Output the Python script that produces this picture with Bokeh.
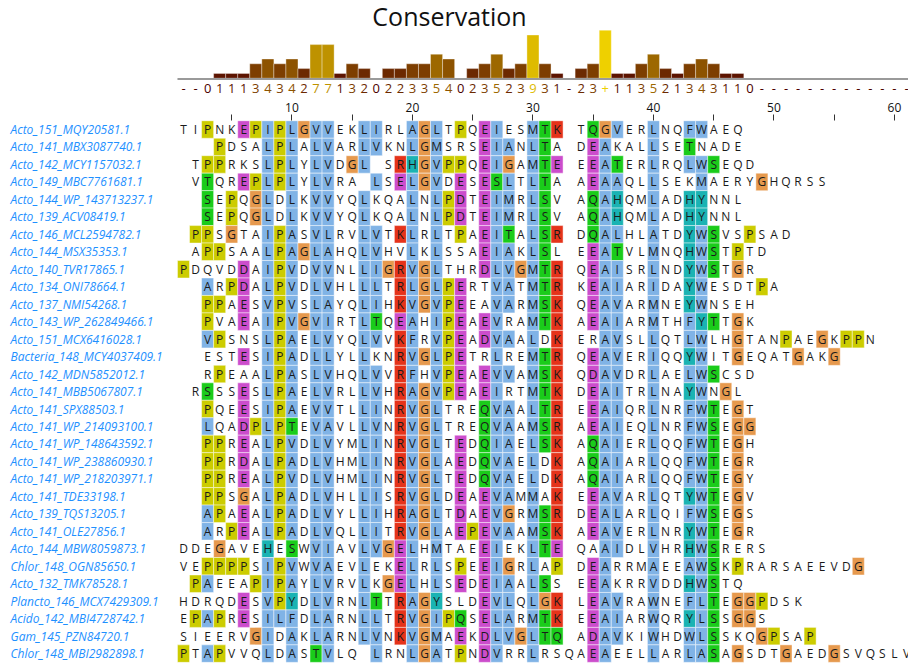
from collections import Counter
from bokeh.plotting import figure
from bokeh.models import Range1d, ColumnDataSource, FixedTicker
from bokeh.layouts import column
from bokeh.embed import file_html
from bokeh.resources import INLINE
from bokeh.core.properties import value

# ---------------- data ----------------
seq_ids = [
    "Acto_151_MQY20581.1", "Acto_141_MBX3087740.1", "Acto_142_MCY1157032.1",
    "Acto_149_MBC7761681.1", "Acto_144_WP_143713237.1", "Acto_139_ACV08419.1",
    "Acto_146_MCL2594782.1", "Acto_144_MSX35353.1", "Acto_140_TVR17865.1",
    "Acto_134_ONI78664.1", "Acto_137_NMI54268.1", "Acto_143_WP_262849466.1",
    "Acto_151_MCX6416028.1", "Bacteria_148_MCY4037409.1", "Acto_142_MDN5852012.1",
    "Acto_141_MBB5067807.1", "Acto_141_SPX88503.1", "Acto_141_WP_214093100.1",
    "Acto_141_WP_148643592.1", "Acto_141_WP_238860930.1", "Acto_141_WP_218203971.1",
    "Acto_141_TDE33198.1", "Acto_139_TQS13205.1", "Acto_141_OLE27856.1",
    "Acto_144_MBW8059873.1", "Chlor_148_OGN85650.1", "Acto_132_TMK78528.1",
    "Plancto_146_MCX7429309.1", "Acido_142_MBI4728742.1", "Gam_145_PZN84720.1",
    "Chlor_148_MBI2982898.1",
]

seq_left = [
    "TIPNKEPIPLGVVEKLIRLAGLTPQEIESM",
    "---PDSALPLALVARLVKNLGMSRSEIANL",
    "-TPPRKSLPLYLVDGL-SRHGVPPQEIGAM",
    "-VTQREPLPLYLVRA-LSELGVDESESLTL",
    "--SEPQGLDLKVVYQLKQALNLPDTEIMRL",
    "--SEPQGLDLKVVYQLKQALNLPDTEIMRL",
    "-PPSGTAIPASVLRVLVTKLRLTPAEITAL",
    "-APPSAALPAGLAHQLVHVLKLSSAEIAKL",
    "PDQVDDAIPVDVVNLLIGRVGLTHRDLVGM",
    "--ARPDALPVDLVHLLLTRLGLPERTVATM",
    "--PPAESVPVSLAYQLIHKVGVPEEAVARM",
    "--PVAEAIPVGVIRTLTQEAHIPEAEVRAM",
    "--VPSNSLPAELVYQLVVKFRVPEADVAAL",
    "--ESTESIPADLLYLLKNRVGLPETRLREM",
    "--RPEAALPASLVHQLVVRFHVPEAEVVAM",
    "-RSSSESLPAELVRLLVHRAGVPEAEIRTM",
    "--PQEESIPAEVVTLLINRVGLTREQVAAL",
    "--LQADPLPTEVAVLLVNRVGLTREQVAAM",
    "--PPREALPVDLVYMLINRVGLTEDQIAEL",
    "--PPRDALPADLVHMLINRVGLAEDQVAEL",
    "--PPREALPVDLVHMLINRVGLTEDQVAEL",
    "--PPSGALPADLVHLLISRVGLDEAEVAMM",
    "--APAEALPADLVYLLIHRAGLTDAEVGRM",
    "--ARPEALPADLVQLLITRVGLAEPEVAAM",
    "DDEGAVEHESWVIAVLVGELHMTAEEIEKL",
    "VEPPPPSIPVWVAEVLEKELRLSPEEIGRL",
    "-PAEEAPIPAYLVRVLKGELHLSEDEIAAL",
    "HDRQDESVPYDLVRNLTTRAGYSLDEVLQL",
    "EPAPRESILFDLARNLLTRVGIPQSELARM",
    "SIEERVGIDAKLARNLVNKVGMAEKDLVGL",
    "PTAPVVQLDASTVLQ-LRNLGATPNDVRRL",
]

seq_right = [
    "TK-TQGVERLNQFWAEQ",
    "TA-DEAKALLSETNADE",
    "TE-EEATERLRQLWSEQD",
    "TA-AEAAQLLSEKMAERYGHQRSS",
    "SV-AQAHQMLADHYNNL",
    "SV-AQAHQMLADHYNNL",
    "SR-DQALHLATDYWSVSPSAD",
    "SL-EEATVLMNQHWSTPTD",
    "TR-QEAISRLNDYWSTGR",
    "TR-KEAIARIDAYWESDTPA",
    "SK-QEAVARMNEYWNSEH",
    "TK-AEAIARMTHFYTTGK",
    "DK-ERAVSLLQTLWLHGTANPAEGKPPN",
    "TR-QEAVERIQQYWITGEQATGAKG",
    "SK-QDAVDRLAELWSCSD",
    "TK-DEAITRLNAYWNGL",
    "TR-EEAIQRLNRFWTEGT",
    "SR-AEAIEQLNRFWSEGG",
    "SK-AQAIERLQQFWTEGH",
    "DK-AQAIARLQQFWTEGR",
    "DK-AQAIARLQQFWTEGY",
    "AK-EEAVARLQTYWTEGV",
    "SR-DEALARLQIFWSEGS",
    "SK-AEAVERLNRYWTEGR",
    "TE-QAAIDLVHRHWSRERS",
    "AP-DEARRMAEEAWSKPRARSAEEVDG",
    "SS-EEAKRRVDDHWSTQ",
    "GK-LEAVRAWNEFLTEGGPDSK",
    "TK-EEAIARWQRYLSSGGS",
    "TQ-ADAVKIWHDWLSSKQGPSAP",
    "RSQAEAEELLARLASAGSDTGAEDGSVQSLV",
]

conservation = ["-", "-", "0", "1", "1", "1", "3", "4", "3", "4",
                "2", "7", "7", "1", "3", "2", "0", "2", "2", "3",
                "3", "5", "4", "0", "2", "3", "5", "2", "3", "9",
                "3", "1", "-", "2", "3", "+", "1", "1", "3", "5",
                "2", "1", "3", "4", "3", "1", "1", "0", "-", "-",
                "-", "-", "-", "-", "-", "-", "-", "-", "-", "-", "-"]

tick_cols = [5, 10, 15, 20, 25, 30, 35, 40, 45, 50, 55, 60]

# ---------------- styling / geometry ----------------
FONT = "Open Sans"
COLOURS = {"blue": "#80b3e6", "red": "#e5331a", "green": "#1acc1a", "orange": "#e6994d",
           "cyan": "#1ab3b3", "pink": "#e68080", "magenta": "#cc4dcc", "yellow": "#cccc00"}

FIG_W = 908
PX_COL = 12.05
COL1_PX = 183.0
x_start = 1 - COL1_PX / PX_COL
x_end = x_start + FIG_W / PX_COL
xr = Range1d(x_start, x_end)

TOP_H = 96
PX_UNIT = 4.8
BASE_PX = 77.7
LABEL_PX = 87.7
TITLE_PX = 15.5
yt_top = BASE_PX / PX_UNIT
yt_bot = -(TOP_H - BASE_PX) / PX_UNIT

BOT_H = 568
BORDER_TOP = 24
ROW_PX = 17.47
FIRST_ROW_PX = 9.0
yb_top = -FIRST_ROW_PX / ROW_PX
yb_bot = yb_top + (BOT_H - BORDER_TOP) / ROW_PX

sequences = [a + b for a, b in zip(seq_left, seq_right)]
n_seq = len(sequences)
n_col = max(len(s) for s in sequences)
sequences = [s.ljust(n_col, "-") for s in sequences]


def clustal_colour(res, cnt):
    def pct(g):
        return sum(cnt[ch] for ch in g) * 100.0 / n_seq

    def s85(ch):
        return pct(ch) > 85

    hyd = pct("WLVIMAFCHP") > 60
    kr = pct("KR") > 60
    qe = pct("QE") > 50
    ed = pct("ED") > 50
    ts = pct("TS") > 50
    if res == "G":
        return COLOURS["orange"]
    if res == "P":
        return COLOURS["yellow"]
    if res in "AILMFWV":
        return COLOURS["blue"] if hyd else None
    if res == "C":
        if s85("C"):
            return COLOURS["pink"]
        return COLOURS["blue"] if hyd else None
    if res in "KR":
        return COLOURS["red"] if (kr or s85("K") or s85("R") or s85("Q")) else None
    if res == "E":
        return COLOURS["magenta"] if (kr or qe or ed or s85("E") or s85("Q") or s85("D")) else None
    if res == "D":
        return COLOURS["magenta"] if (kr or s85("K") or s85("R") or s85("Q") or ed) else None
    if res == "N":
        return COLOURS["green"] if (pct("N") > 50 or s85("N") or s85("Y")) else None
    if res == "Q":
        return COLOURS["green"] if (kr or qe or s85("Q") or s85("E") or s85("K") or s85("R")) else None
    if res in "ST":
        return COLOURS["green"] if (hyd or ts or s85("S") or s85("T")) else None
    if res in "HY":
        if hyd or any(s85(ch) for ch in "WYACPQFHILMV"):
            return COLOURS["cyan"]
        return None
    return None


cell_x, cell_y, cell_c = [], [], []
let_x, let_y, let_t = [], [], []
for c in range(n_col):
    cnt = Counter(s[c] for s in sequences)
    for r, s in enumerate(sequences):
        ch = s[c]
        if ch == "-":
            continue
        let_x.append(c + 1)
        let_y.append(r)
        let_t.append(ch)
        col = clustal_colour(ch, cnt)
        if col:
            cell_x.append(c + 1)
            cell_y.append(r)
            cell_c.append(col)


def cons_value(s):
    if s == "+":
        return 10
    if s == "*":
        return 11
    if s == "-":
        return 0
    return int(s)


def cons_colour(v):
    f = v / 11.0
    return "#%02x%02x%02x" % (int(255 * (0.3 + 0.7 * f)), int(255 * 0.9 * f), 0)


cons_x = list(range(1, len(conservation) + 1))
cons_v = [cons_value(s) for s in conservation]
cons_c = [cons_colour(v) for v in cons_v]
bar_src = ColumnDataSource(dict(x=[x for x, v in zip(cons_x, cons_v) if v > 0],
                                top=[v for v in cons_v if v > 0],
                                color=[c for c, v in zip(cons_c, cons_v) if v > 0]))
lab_y = yt_top - LABEL_PX / PX_UNIT
lab_src = ColumnDataSource(dict(x=cons_x, y=[lab_y] * len(cons_x),
                                t=conservation, color=cons_c))

# ---------------- top figure: conservation ----------------
pt = figure(width=FIG_W, height=TOP_H, x_range=xr, y_range=Range1d(yt_bot, yt_top),
            toolbar_location=None, output_backend="svg", min_border=0,
            x_axis_location=None, y_axis_location=None, outline_line_color=None)
pt.grid.visible = False
pt.vbar(x="x", top="top", bottom=0, width=1, fill_color="color", line_color="white",
        line_alpha=0.35, line_width=1, source=bar_src)
pt.line(x=[0.5, n_col + 0.5], y=[-0.15, -0.15], line_color="#9a9a9a", line_width=2)
pt.text(x="x", y="y", text="t", text_color="color", text_align="center",
        text_baseline="middle", text_font=value(FONT), text_font_size="13px", source=lab_src)
pt.text(x=[x_start + 449 / PX_COL], y=[yt_top - TITLE_PX / PX_UNIT], text=["Conservation"],
        text_align="center", text_baseline="middle", text_font=value(FONT),
        text_font_size="25px", text_color="#111111")

# ---------------- bottom figure: alignment ----------------
pb = figure(width=FIG_W, height=BOT_H, x_range=xr, y_range=Range1d(yb_bot, yb_top),
            toolbar_location=None, output_backend="svg", x_axis_location="above",
            y_axis_location=None, min_border_left=0, min_border_right=0,
            min_border_bottom=0, min_border_top=BORDER_TOP, outline_line_color=None)
pb.grid.visible = False
ax = pb.xaxis[0]
ax.ticker = FixedTicker(ticks=tick_cols, minor_ticks=[])
ax.major_label_overrides = {t: ("" if t % 10 else str(t)) for t in tick_cols}
ax.axis_line_color = None
ax.major_tick_out = 6
ax.major_tick_in = 0
ax.minor_tick_line_color = None
ax.major_tick_line_color = "#333333"
ax.major_label_standoff = 3
ax.major_label_text_font = FONT
ax.major_label_text_font_size = "12px"
ax.major_label_text_color = "#111111"

pb.rect(x=cell_x, y=cell_y, width=1, height=1, fill_color=cell_c,
        line_color="white", line_alpha=0.45, line_width=1)
pb.text(x=let_x, y=let_y, text=let_t, text_align="center", text_baseline="middle",
        text_font=value(FONT), text_font_size="12px", text_color="#1a1a1a")
pb.text(x=[x_start + 10 / PX_COL] * n_seq, y=list(range(n_seq)), text=seq_ids,
        text_align="left", text_baseline="middle", text_font=value(FONT),
        text_font_size="12px", text_font_style="italic", text_color="#1e90ff")

layout = column(pt, pb, spacing=0)
open("out.html", "w").write(file_html(layout, INLINE))
